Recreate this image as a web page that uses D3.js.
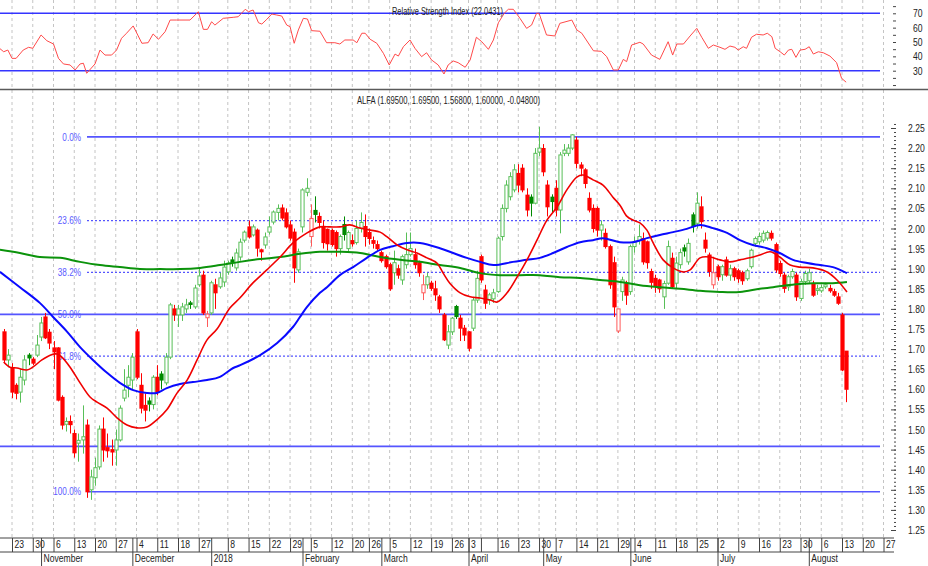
<!DOCTYPE html>
<html>
<head>
<meta charset="utf-8">
<script src="https://cdn.jsdelivr.net/npm/d3@7"></script>
<style>
body{margin:0;background:#fff;}
text{font-family:"Liberation Sans Narrow","Arial Narrow","Liberation Sans",Arial,sans-serif;font-size:11px;fill:#222;}
</style>
</head>
<body>
<div id="chart"></div>
<script>
// daily candles [open, high, low, close], one per trading day
var ohlc = [
[1.743,1.75,1.665,1.673],[1.673,1.70,1.655,1.685],[1.653,1.665,1.578,1.593],[1.61,1.615,1.575,1.59],[1.593,1.65,1.567,1.63],
[1.623,1.685,1.61,1.673],[1.685,1.69,1.66,1.678],[1.675,1.68,1.66,1.665],[1.685,1.735,1.68,1.71],[1.73,1.78,1.72,1.765],
[1.78,1.79,1.725,1.728],[1.742,1.75,1.70,1.715],[1.703,1.72,1.65,1.693],[1.703,1.705,1.57,1.573],[1.58,1.585,1.50,1.511],
[1.513,1.53,1.495,1.52],[1.52,1.535,1.49,1.512],[1.49,1.50,1.43,1.442],[1.466,1.49,1.42,1.473],[1.474,1.56,1.44,1.482],
[1.511,1.525,1.33,1.345],[1.35,1.40,1.325,1.382],[1.38,1.43,1.36,1.405],[1.407,1.51,1.40,1.501],[1.501,1.53,1.42,1.449],
[1.455,1.49,1.43,1.447],[1.45,1.475,1.41,1.444],[1.449,1.50,1.41,1.474],[1.474,1.56,1.47,1.553],[1.578,1.65,1.57,1.598],
[1.61,1.66,1.58,1.63],[1.623,1.69,1.60,1.68],[1.743,1.75,1.625,1.63],[1.61,1.64,1.54,1.553],[1.56,1.59,1.52,1.548],
[1.571,1.58,1.545,1.563],[1.562,1.635,1.55,1.63],[1.63,1.66,1.585,1.593],[1.638,1.645,1.60,1.623],[1.616,1.69,1.61,1.68],
[1.68,1.815,1.675,1.81],[1.80,1.81,1.77,1.785],[1.785,1.81,1.755,1.80],[1.785,1.815,1.77,1.805],[1.80,1.825,1.79,1.81],
[1.815,1.82,1.80,1.811],[1.805,1.86,1.80,1.852],[1.86,1.90,1.855,1.882],[1.884,1.895,1.785,1.79],[1.778,1.795,1.755,1.787],
[1.79,1.87,1.785,1.865],[1.86,1.875,1.80,1.84],[1.855,1.89,1.85,1.877],[1.867,1.92,1.855,1.904],[1.892,1.92,1.885,1.914],
[1.922,1.93,1.905,1.916],[1.902,1.95,1.895,1.939],[1.929,1.975,1.92,1.966],[1.971,1.995,1.965,1.991],[2.004,2.02,1.975,1.979],
[1.984,2.01,1.98,2.004],[1.996,2.0,1.93,1.951],[1.947,1.95,1.92,1.942],[1.959,1.99,1.95,1.979],[1.991,2.03,1.985,2.004],
[2.016,2.045,2.01,2.041],[2.04,2.06,2.02,2.05],[2.051,2.06,2.02,2.026],[2.039,2.05,2.0,2.004],[2.009,2.02,1.97,1.976],
[1.991,2.0,1.865,1.902],[1.897,1.95,1.89,1.942],[2.004,2.10,1.99,2.096],[2.09,2.125,2.08,2.10],[1.98,2.06,1.955,2.025],
[2.045,2.08,2.015,2.035],[2.03,2.04,2.0,2.015],[2.005,2.02,1.95,1.965],[1.998,2.0,1.945,1.962],[1.995,2.0,1.955,1.96],
[1.99,1.995,1.93,1.95],[1.95,1.985,1.935,1.98],[2.01,2.03,1.97,1.985],[1.95,1.995,1.94,1.99],[1.97,1.985,1.955,1.962],
[1.965,2.02,1.96,2.0],[2.0,2.04,1.99,2.015],[2.005,2.035,1.955,1.98],[1.99,2.0,1.96,1.975],[1.97,1.98,1.95,1.963],
[1.96,1.97,1.945,1.95],[1.94,1.945,1.915,1.92],[1.93,1.935,1.90,1.905],[1.91,1.915,1.845,1.85],[1.89,1.945,1.86,1.915],
[1.90,1.91,1.875,1.884],[1.872,1.935,1.86,1.93],[1.91,1.99,1.90,1.935],[1.935,1.99,1.93,1.95],[1.935,1.95,1.90,1.91],
[1.915,1.92,1.88,1.89],[1.84,1.885,1.822,1.86],[1.86,1.89,1.85,1.88],[1.864,1.87,1.845,1.851],[1.85,1.87,1.82,1.835],
[1.83,1.835,1.79,1.80],[1.785,1.79,1.72,1.723],[1.71,1.76,1.70,1.743],[1.743,1.78,1.735,1.777],[1.806,1.81,1.775,1.781],
[1.777,1.785,1.72,1.752],[1.752,1.76,1.72,1.735],[1.743,1.745,1.694,1.702],[1.752,1.83,1.745,1.822],[1.822,1.895,1.815,1.876],
[1.93,1.935,1.865,1.872],[1.847,1.86,1.80,1.814],[1.822,1.84,1.81,1.835],[1.825,1.85,1.815,1.84],[1.843,1.98,1.84,1.976],
[1.98,2.06,1.97,2.05],[2.05,2.12,2.04,2.108],[2.079,2.14,2.07,2.129],[2.096,2.16,2.09,2.146],[2.137,2.16,2.09,2.108],
[2.15,2.16,2.09,2.096],[2.083,2.10,2.03,2.046],[2.078,2.085,2.03,2.063],[2.063,2.20,2.06,2.187],[2.19,2.253,2.18,2.20],
[2.199,2.21,2.13,2.141],[2.108,2.12,2.03,2.054],[2.078,2.085,2.04,2.067],[2.10,2.12,2.03,2.046],[2.046,2.19,1.988,2.183],
[2.187,2.21,2.18,2.195],[2.187,2.21,2.18,2.20],[2.20,2.235,2.195,2.233],[2.22,2.228,2.15,2.162],[2.158,2.165,2.13,2.15],
[2.146,2.15,2.10,2.112],[2.075,2.09,2.04,2.046],[2.05,2.06,1.99,2.0],[2.05,2.055,1.98,1.996],[1.996,2.02,1.97,2.009],
[1.988,2.0,1.95,1.955],[1.955,1.96,1.85,1.86],[1.915,1.93,1.78,1.805],[1.745,1.80,1.74,1.80],[1.843,1.88,1.82,1.872],
[1.863,1.87,1.81,1.834],[1.843,1.96,1.835,1.955],[1.955,1.98,1.94,1.967],[1.97,2.01,1.96,1.98],[1.975,1.99,1.91,1.917],
[1.967,1.97,1.90,1.915],[1.893,1.90,1.85,1.866],[1.876,1.885,1.84,1.858],[1.872,1.875,1.84,1.85],[1.83,1.87,1.80,1.863],
[1.864,1.97,1.86,1.955],[1.926,1.94,1.85,1.855],[1.864,1.93,1.85,1.914],[1.91,1.95,1.90,1.94],[1.952,1.96,1.93,1.944],
[1.917,1.975,1.91,1.963],[2.034,2.04,1.99,2.005],[2.013,2.09,2.0,2.063],[2.054,2.08,2.0,2.017],[1.971,1.99,1.94,1.951],
[1.934,1.94,1.88,1.893],[1.86,1.93,1.85,1.89],[1.905,1.91,1.87,1.88],[1.885,1.91,1.87,1.905],[1.922,1.93,1.88,1.884],
[1.884,1.91,1.87,1.90],[1.90,1.905,1.87,1.88],[1.895,1.90,1.865,1.875],[1.89,1.895,1.86,1.87],[1.875,1.90,1.87,1.895],
[1.905,1.95,1.90,1.946],[1.963,1.98,1.955,1.975],[1.967,1.99,1.96,1.98],[1.971,1.995,1.965,1.988],[1.976,1.995,1.97,1.99],
[1.988,1.995,1.97,1.976],[1.96,1.965,1.89,1.897],[1.913,1.92,1.88,1.888],[1.884,1.89,1.84,1.851],[1.855,1.885,1.845,1.88],
[1.88,1.90,1.875,1.893],[1.884,1.89,1.82,1.83],[1.826,1.875,1.82,1.868],[1.868,1.895,1.86,1.888],[1.87,1.90,1.865,1.89],
[1.863,1.87,1.83,1.834],[1.846,1.86,1.835,1.85],[1.845,1.86,1.84,1.853],[1.855,1.865,1.85,1.86],[1.851,1.86,1.84,1.845],
[1.843,1.85,1.83,1.834],[1.83,1.84,1.81,1.814],[1.785,1.79,1.645,1.648],[1.695,1.695,1.568,1.60]
];

// moving averages: [day index, price]
var maFast = [[0,1.668],[1.5,1.655],[3.2,1.653],[5.6,1.648],[7,1.655],[9.2,1.673],[11.2,1.685],[12.8,1.688],[14,1.68],[16,1.655],[18.4,1.616],[20.8,1.581],[22.5,1.568],[24.9,1.553],[27.3,1.529],[29.7,1.511],[32.1,1.504],[34.5,1.506],[36.9,1.524],[39.3,1.549],[41.8,1.591],[44.2,1.623],[46.6,1.673],[49,1.723],[51.4,1.75],[54.5,1.802],[56.9,1.827],[60,1.864],[63.4,1.897],[66.6,1.929],[69.7,1.964],[73.1,1.989],[76.2,2.004],[78.6,2.004],[81,2.004],[83.4,2.009],[85.9,2.001],[88.3,1.996],[90.7,1.991],[92.4,1.979],[94.8,1.959],[97.2,1.947],[99.6,1.939],[102,1.927],[104.4,1.914],[105.9,1.889],[107.5,1.864],[110,1.84],[112.4,1.83],[114.8,1.827],[117.2,1.822],[118.9,1.817],[121.3,1.84],[123.7,1.879],[126.1,1.922],[128.5,1.971],[130.9,2.021],[133.3,2.053],[135.7,2.096],[138.1,2.128],[139.6,2.133],[142,2.121],[144.4,2.108],[146.8,2.078],[148.5,2.058],[150.2,2.03],[151.6,2.021],[153.3,2.014],[155,1.996],[156.5,1.964],[158.9,1.922],[161.3,1.902],[163.7,1.892],[165.4,1.897],[167.8,1.927],[170.2,1.929],[172.6,1.922],[175,1.917],[177.4,1.922],[179.8,1.927],[182.2,1.934],[184.7,1.942],[187,1.929],[189.5,1.909],[191.9,1.904],[195,1.902],[198.4,1.892],[200.8,1.872],[203.2,1.842]];
var maMid = [[-0.9,1.892],[3.9,1.854],[8.7,1.815],[11.9,1.78],[15.3,1.743],[18.4,1.705],[21.5,1.673],[24.9,1.641],[28,1.616],[31.2,1.598],[34.5,1.591],[36.9,1.591],[39.3,1.603],[42.5,1.613],[45.6,1.618],[49,1.623],[52.1,1.631],[55.3,1.653],[57,1.66],[61.8,1.685],[65.9,1.715],[69.7,1.755],[71.4,1.78],[73.1,1.805],[76.2,1.84],[77.9,1.854],[81,1.884],[84.2,1.904],[87.5,1.927],[90.7,1.947],[93.8,1.956],[97.2,1.964],[100.3,1.964],[105.1,1.951],[108.3,1.939],[111.6,1.927],[114.8,1.917],[118,1.909],[122.7,1.917],[126.1,1.922],[129.2,1.927],[132.4,1.939],[135.7,1.954],[138.9,1.966],[142,1.971],[144.4,1.976],[148.5,1.966],[151.6,1.966],[155,1.976],[158.1,1.984],[161.3,1.991],[164.6,1.999],[167.8,2.009],[170.9,2.001],[174.3,1.989],[177.4,1.971],[180.5,1.959],[183.9,1.951],[187,1.939],[190.2,1.922],[193.6,1.914],[196.7,1.909],[199.8,1.904],[203.2,1.889]];
var maSlow = [[-0.9,1.947],[3.9,1.939],[8.7,1.929],[13.6,1.927],[18.4,1.917],[23.2,1.909],[28,1.904],[32.8,1.899],[37.7,1.899],[42.5,1.899],[47.3,1.902],[52.1,1.909],[56.9,1.917],[61.8,1.924],[66.6,1.929],[71.4,1.937],[76.2,1.942],[81,1.942],[85.9,1.939],[90.7,1.929],[95.5,1.922],[100.3,1.917],[105.1,1.909],[110,1.902],[114.8,1.889],[119.6,1.884],[124.4,1.884],[129.2,1.884],[134,1.879],[138.9,1.877],[143.7,1.872],[148.5,1.867],[153.3,1.859],[158.1,1.854],[163,1.85],[167.8,1.845],[172.6,1.842],[177.4,1.842],[182.2,1.85],[185.4,1.854],[188.7,1.859],[191.9,1.862],[195,1.864],[199.8,1.864],[203.2,1.867]];

// RSI: [day index, value]
var rsi = [[-1,45.6],[0,43.2],[1,44.4],[2,38.6],[3,38.6],[4.7,44.4],[6,46.3],[7,45.6],[9,54.9],[10.4,50.9],[12,48.6],[13.2,38.6],[14.4,34.7],[16,34],[17.2,30.5],[18.4,34.7],[19.2,35.2],[20,28.2],[22,34.7],[23.2,44.4],[24.4,40.9],[26,40.9],[27.2,44.4],[28.4,52.6],[29.6,56.1],[31.2,61.2],[33.3,49.1],[34.8,49.5],[36,55.6],[37.3,51.9],[38.9,57.2],[40.1,65.3],[41.7,65.3],[44.9,65.3],[46.9,71.1],[48.1,58.8],[49.1,58.8],[50.1,64.1],[50.9,61.8],[52.9,66.5],[55.3,67.2],[56.5,67.6],[58.2,72.8],[59,71.1],[60.1,72.3],[61.4,63.4],[62.2,62.5],[63.4,65.8],[64.6,69.5],[65.8,68.8],[67,68.1],[68.2,61.8],[69,60.7],[70,49.1],[71,58.4],[72.2,66.5],[73.2,66],[74.2,57.9],[76.2,57.5],[77.8,49.5],[79.8,49.5],[81,48.6],[82.2,51.4],[84.2,51.4],[85.1,49.5],[86.3,56.1],[87.1,56.1],[88.3,51.9],[89.9,49.1],[91.5,42.1],[92.9,34],[94.3,41.6],[95.1,40.2],[96.3,46.7],[97.9,51.4],[99.1,45.6],[100.7,39.8],[101.9,42.5],[103.1,37.5],[104.7,34],[106.1,27.7],[107.1,34],[108.3,36.8],[109.5,35.6],[111.2,32.4],[112.4,37.5],[113.9,53.3],[115.2,50.2],[116.8,44.9],[118,51.4],[119.2,63.4],[120.6,70],[121.6,72.8],[122.8,72.8],[124.4,66.5],[126,59.5],[127.2,61.8],[128.4,70],[129,70],[130.8,54.9],[132.8,54.2],[134,63],[136.9,65.3],[138.1,58.4],[139.3,56.1],[142.1,43.9],[144,43.5],[145.3,39.8],[146.9,30.5],[148.1,30.5],[149.3,37.9],[150.1,36.3],[151.3,47.9],[153.3,49.8],[154.1,48.6],[156.1,40.9],[158.1,37.9],[160.1,50.2],[161.2,40.9],[162.2,48.6],[163.8,48.6],[165.4,54.2],[167,59.5],[168.2,53.3],[169.8,45.6],[171,47.9],[172.6,46.3],[173.8,44.9],[175,47.2],[176.2,46.3],[177,44.4],[178.2,46.7],[179,45.6],[180.2,53.3],[181.4,55.4],[183,54.9],[184,56.1],[185.1,53.7],[185.9,45.6],[187.1,43.2],[188.1,40.9],[189.1,44.4],[189.9,44.9],[190.9,39.3],[191.9,44.4],[193.1,44.9],[194.1,46.7],[195.1,41.6],[196.3,43.2],[197.5,42.5],[199.1,40.2],[200.7,35.6],[201.9,24.7],[203,22.0]];

// fibonacci retracement levels
var fibPrice = [2.228, 2.0196, 1.8907, 1.7865, 1.6823, 1.458, 1.345];
var fibLabel = ["0.0%", "23.6%", "38.2%", "50.0%", "61.8%", "", "100.0%"];

// date axis: week starts and month starts, as trading day index
var weekIdx = [2,7,12,17,22,27,32,37,42,47,54,59,64,69,74,79,84,88,93,98,103,108,112,115,119,124,129,133,138,143,148,152,157,162,167,172,177,182,187,192,197,202,207,212];
var weekLabel = ["23","30","6","13","20","27","4","11","18","27","8","15","22","29","5","12","20","26","5","12","19","26","3","","16","23","30","7","14","21","29","4","11","18","25","2","9","16","23","30","6","13","20","27"];
var monthIdx = [9,31,50,72,91,112,130,151,172,194];
var monthLabel = ["November","December","2018","February","March","April","May","June","July","August"];

var rsiLevels = [30, 70];
var priceTitle = "ALFA (1.69500, 1.69500, 1.56800, 1.60000, -0.04800)";
var rsiTitle = "Relative Strength Index (22.0431)";

const width = 928, height = 566;
const plotRight = 880;
const squeeze = 0.78;   // no narrow face installed, so squeeze the text
var svg, x, y, yR;

function condense(sel){
  sel.each(function(){
    var t = d3.select(this);
    var xv = +t.attr('x') || 0;
    t.attr('x', xv / squeeze).attr('transform', `scale(${squeeze},1)`);
  });
}

function setup(){
  svg = d3.select('#chart').append('svg')
          .attr('width', width).attr('height', height);
  x = d3.scaleLinear().domain([0, 212]).range([3.7, 883.5]);
  y = d3.scaleLinear().domain([1.25, 2.25]).range([530, 128]);
  yR = d3.scaleLinear().domain([30, 70]).range([70.7, 13.3]);

  var defs = svg.append('defs');
  defs.append('clipPath').attr('id','clipMain')
      .append('rect').attr('x',0).attr('y',90).attr('width',plotRight).attr('height',447);
  defs.append('clipPath').attr('id','clipRsi')
      .append('rect').attr('x',0).attr('y',0).attr('width',plotRight).attr('height',89);
}

function drawGrid(){
  svg.append('g').selectAll('line').data(weekIdx).join('line')
     .attr('x1', d => x(d)).attr('x2', d => x(d))
     .attr('y1', 0).attr('y2', 537)
     .attr('stroke', '#c4c4c4').attr('stroke-dasharray', '3,3');
  svg.append('line').attr('x1',0).attr('x2',width).attr('y1',89.5).attr('y2',89.5)
     .attr('stroke','#5a5a5a').attr('stroke-width',1.5);
}

function drawRsi(){
  var g = svg.append('g').attr('clip-path','url(#clipRsi)');
  g.selectAll('line').data(rsiLevels).join('line')
   .attr('x1',0).attr('x2',plotRight)
   .attr('y1', d => yR(d)).attr('y2', d => yR(d))
   .attr('stroke','#3434ff').attr('stroke-width',1.5);
  g.append('path').datum(rsi)
   .attr('d', d3.line().x(d => x(d[0])).y(d => yR(d[1])))
   .attr('fill','none').attr('stroke','#ff4a4a').attr('stroke-width',1);
  svg.append('text').attr('x',392).attr('y',15)
     .attr('textLength',111).attr('lengthAdjust','spacingAndGlyphs').text(rsiTitle);

  var ax = svg.append('g').attr('transform','translate(896,0)')
     .call(d3.axisRight(yR).tickValues(d3.range(20,76,5)).tickSize(3).tickFormat(''));
  ax.select('.domain').remove();
  ax.selectAll('line').attr('x1',-3).attr('x2',0).attr('stroke','#444');
  var lab = svg.append('g').attr('transform','translate(896,0)')
     .call(d3.axisRight(yR).tickValues([30,40,50,60,70]).tickSize(0).tickPadding(17));
  lab.select('.domain').remove();
  lab.selectAll('text').style('font-size','11px').attr('fill','#222').call(condense);
}

function drawFib(){
  var g = svg.append('g').attr('clip-path','url(#clipMain)');
  var dotted = ["23.6%","38.2%","61.8%"];
  fibPrice.forEach(function(p, k){
    var lbl = fibLabel[k];
    var full = (lbl === "50.0%" || lbl === "");
    g.append('line')
     .attr('x1', full ? 0 : 87).attr('x2', plotRight)
     .attr('y1', y(p)).attr('y2', y(p))
     .attr('stroke', '#5555ff')
     .attr('stroke-width', dotted.indexOf(lbl) >= 0 ? 1.3 : 1.6)
     .attr('stroke-dasharray', dotted.indexOf(lbl) >= 0 ? '2,2' : null);
    if(lbl){
      svg.append('text').attr('x',81).attr('y',y(p)).attr('dy','0.35em')
         .attr('text-anchor','end').style('fill','#5a5aff').style('font-size','10.5px').text(lbl)
         .call(condense);
    }
  });
}

function drawCandles(){
  var g = svg.append('g').attr('clip-path','url(#clipMain)');
  var bw = 3.2;
  ohlc.forEach(function(d, i){
    var o = d[0], h = d[1], l = d[2], c = d[3];
    var prev = i > 0 ? ohlc[i-1][3] : Infinity;
    var up = c >= prev;
    var hollow = c >= o;
    var col = hollow ? (up ? '#58bf58' : '#ff5a5a') : (up ? '#008a00' : '#ff0000');
    var cx = Math.round(x(i)) + 0.5;
    var top = y(Math.max(o, c)), bot = y(Math.min(o, c));
    g.append('line').attr('x1',cx).attr('x2',cx).attr('y1',y(h)).attr('y2',top).attr('stroke',col);
    g.append('line').attr('x1',cx).attr('x2',cx).attr('y1',bot).attr('y2',y(l)).attr('stroke',col);
    var hgt = Math.max(1, bot - top);
    if(hollow){
      g.append('rect').attr('x',cx - bw/2).attr('y',top).attr('width',bw).attr('height',hgt)
       .attr('fill','#fff').attr('stroke',col).attr('stroke-width',1);
    } else {
      g.append('rect').attr('x',cx - bw/2 - 0.5).attr('y',top - 0.5).attr('width',bw + 1).attr('height',hgt + 1)
       .attr('fill',col);
    }
  });
}

function drawAverages(){
  var g = svg.append('g').attr('clip-path','url(#clipMain)');
  var line = d3.line().x(d => x(d[0])).y(d => y(d[1])).curve(d3.curveCatmullRom);
  g.append('path').datum(maSlow).attr('d',line).attr('fill','none').attr('stroke','#0b930b').attr('stroke-width',2);
  g.append('path').datum(maMid).attr('d',line).attr('fill','none').attr('stroke','#0a0aff').attr('stroke-width',2);
  g.append('path').datum(maFast).attr('d',line).attr('fill','none').attr('stroke','#f00000').attr('stroke-width',1.6);
  svg.append('text').attr('x',357).attr('y',104)
     .attr('textLength',183).attr('lengthAdjust','spacingAndGlyphs').text(priceTitle);
}

function drawAxes(){
  var minor = svg.append('g').attr('transform','translate(896,0)')
     .call(d3.axisRight(y).tickValues(d3.range(125,227).map(v => v/100)).tickSize(2).tickFormat(''));
  minor.select('.domain').remove();
  minor.selectAll('line').attr('x1',-2).attr('x2',0).attr('stroke','#444');
  var major = svg.append('g').attr('transform','translate(896,0)')
     .call(d3.axisRight(y).tickValues(d3.range(125,230,5).map(v => v/100)).tickSize(0).tickPadding(12).tickFormat(d3.format('.2f')));
  major.select('.domain').remove();
  major.selectAll('.tick').append('line').attr('x1',-5).attr('x2',0).attr('stroke','#444');
  major.selectAll('text').style('font-size','11px').attr('fill','#222').call(condense);

  // date rows
  svg.append('line').attr('x1',0).attr('x2',894).attr('y1',538).attr('y2',538).attr('stroke','#444');
  svg.append('line').attr('x1',0).attr('x2',894).attr('y1',552).attr('y2',552).attr('stroke','#444');
  var days = svg.append('g').attr('transform','translate(0,538)')
     .call(d3.axisBottom(x).tickValues(weekIdx).tickSize(14).tickFormat((d,k) => weekLabel[k]));
  days.select('.domain').remove();
  days.selectAll('line').attr('stroke','#444');
  days.selectAll('text').attr('text-anchor','start').attr('x',2).attr('y',2)
      .style('font-size','11px').attr('fill','#222').call(condense);
  var months = svg.append('g').attr('transform','translate(0,538)')
     .call(d3.axisBottom(x).tickValues(monthIdx).tickSize(28).tickFormat((d,k) => monthLabel[k]));
  months.select('.domain').remove();
  months.selectAll('line').attr('stroke','#444');
  months.selectAll('text').attr('text-anchor','start').attr('x',2).attr('y',16)
      .style('font-size','11px').attr('fill','#222').call(condense);
}

setup();
drawGrid();
drawRsi();
drawFib();
drawCandles();
drawAverages();
drawAxes();
</script>
</body>
</html>
